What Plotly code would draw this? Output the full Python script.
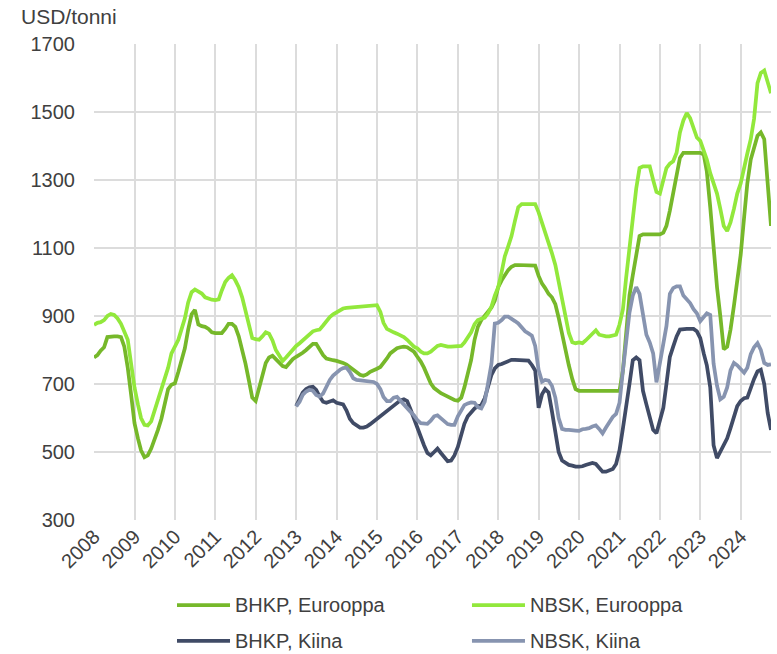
import pandas as pd
import plotly.graph_objects as go


# -----------------------------------
# Monthly pulp prices, USD/tonni
# -----------------------------------
bhkp_eu = [
    778, 785, 798, 808, 838, 840, 840, 840, 838, 810, 748, 670,          # 2008
    585, 540, 505, 485, 490, 510, 535, 565, 598, 640, 685, 698,          # 2009
    702, 735, 770, 805, 860, 905, 918, 875, 870, 868, 862, 852,          # 2010
    850, 849, 850, 862, 877, 877, 868, 840, 800, 760, 710, 660,          # 2011
    650, 690, 730, 762, 778, 783, 773, 763, 753, 750, 762, 773,          # 2012
    780, 785, 792, 800, 810, 818, 818, 800, 785, 775, 771, 770,          # 2013
    768, 766, 762, 757, 750, 742, 733, 727, 724, 728, 736, 742,          # 2014
    745, 750, 760, 775, 790, 798, 805, 808, 810, 808, 800, 795,          # 2015
    780, 766, 748, 725, 702, 688, 680, 673, 668, 663, 658, 653,          # 2016
    651, 660, 690, 730, 770, 830, 868, 888, 900, 910, 925, 945,          # 2017
    985, 1005, 1020, 1035, 1045, 1050, 1050, 1050, 1050, 1050, 1050, 1048,  # 2018
    1018, 995, 982, 965, 955, 935, 895, 845, 800, 755, 715, 685,         # 2019
    680, 680, 680, 680, 680, 680, 680, 680, 680, 680, 680, 680,          # 2020
    680, 740, 860, 960, 1020, 1085, 1135, 1140, 1140, 1140, 1140, 1140,  # 2021
    1140, 1145, 1165, 1210, 1260, 1320, 1365, 1380, 1380, 1380, 1380, 1380,  # 2022
    1380, 1375, 1325, 1220, 1090, 985, 900, 802, 810, 860, 930, 1010,    # 2023
    1080, 1190, 1290, 1360, 1400, 1430, 1440, 1420, 1290, 1165,          # 2024
]

nbsk_eu = [
    874, 880, 882, 888, 900, 906, 903, 893, 877, 852, 830, 760,          # 2008
    690, 640, 600, 580, 578, 590, 620, 650, 685, 710, 748, 790,          # 2009
    810, 830, 860, 893, 940, 970, 978, 972, 966, 955, 950, 948,          # 2010
    947, 949, 975, 1000, 1012, 1020, 1005, 985, 955, 915, 870, 835,      # 2011
    832, 830, 840, 852, 848, 828, 800, 782, 768, 778, 790, 800,          # 2012
    812, 820, 828, 836, 848, 855, 858, 860, 872, 885, 897, 905,          # 2013
    912, 918, 922, 924, 925, 926, 927, 928, 929, 930, 932, 933,          # 2014
    932, 912, 880, 862, 856, 852, 848, 844, 838, 830, 820, 810,          # 2015
    805, 795, 790, 790, 795, 805, 812, 815, 812, 810, 810, 810,          # 2016
    810, 812, 822, 835, 852, 876, 888, 892, 895, 908, 928, 960,          # 2017
    985, 1030, 1075, 1105, 1135, 1180, 1220, 1229, 1229, 1229, 1229, 1229,  # 2018
    1205, 1175, 1140, 1115, 1085, 1050, 1000, 950, 900, 850, 823, 820,   # 2019
    822, 820, 828, 838, 845, 858, 845, 842, 840, 840, 842, 845,          # 2020
    875, 920, 1010, 1100, 1190, 1275, 1335, 1340, 1340, 1340, 1300, 1265,  # 2021
    1260, 1300, 1335, 1348, 1355, 1380, 1440, 1475, 1497, 1482, 1450, 1425,  # 2022
    1415, 1385, 1360, 1320, 1290, 1260, 1215, 1165, 1150, 1175, 1215, 1260,  # 2023
    1290, 1330, 1378, 1420, 1480, 1585, 1615, 1622, 1590, 1555,          # 2024
]

# China series start in January 2013
bhkp_cn = [
    635, 655, 675, 685, 690, 692, 683, 663, 648, 645, 648, 652,          # 2013
    645, 642, 640, 622, 598, 585, 577, 572, 572, 575, 582, 590,          # 2014
    595, 603, 612, 620, 628, 635, 643, 652, 655, 650, 625, 598,          # 2015
    575, 548, 520, 497, 490, 500, 510, 497, 483, 473, 475, 490,          # 2016
    515, 550, 583, 605, 618, 628, 634, 638, 658, 692, 727, 746,          # 2017
    756, 759, 762, 768, 771, 771, 771, 771, 771, 769, 756, 740,          # 2018
    630, 670, 685, 675, 620, 550, 500, 475, 468, 462, 460, 457,          # 2019
    457, 458, 462, 466, 468, 465, 452, 442, 442, 445, 450, 465,          # 2020
    505, 570, 625, 700, 770, 778, 770, 680, 640, 605, 565, 555,          # 2021
    590, 630, 700, 780, 810, 840, 860, 862, 862, 862, 862, 855,          # 2022
    835, 790, 755, 690, 520, 482, 500, 517, 540, 570, 605, 635,          # 2023
    650, 658, 660, 690, 715, 737, 742, 700, 615, 565,                    # 2024
]

nbsk_cn = [
    634, 648, 668, 678, 683, 680, 668, 663, 672, 692, 712, 725,          # 2013
    735, 742, 747, 748, 735, 717, 712, 711, 710, 709, 708, 706,          # 2014
    700, 685, 662, 650, 650, 660, 662, 650, 638, 630, 618, 608,          # 2015
    594, 585, 583, 583, 592, 605, 608, 598, 588, 582, 580, 580,          # 2016
    605, 620, 638, 643, 646, 645, 632, 628, 648, 702, 760, 878,          # 2017
    880, 888, 898, 898, 893, 885, 878, 865, 855, 849, 842, 812,          # 2018
    741, 707, 712, 710, 695, 660, 600, 568, 565, 565, 565, 563,          # 2019
    562, 567, 568, 570, 575, 578, 568, 555, 572, 590, 603, 612,          # 2020
    645, 740, 820, 910, 960, 985, 965, 900, 845, 822, 790, 705,          # 2021
    760, 815, 870, 965, 982, 987, 987, 960, 948, 938, 920, 908,          # 2022
    885, 898, 908, 903, 760, 695, 655, 662, 690, 740, 762, 755,          # 2023
    742, 733, 748, 788, 808, 820, 800, 762, 756, 758,                    # 2024
]

y_ticks = [300, 500, 700, 900, 1100, 1300, 1500, 1700]

dates_eu = pd.date_range("2008-01-01", periods=len(bhkp_eu), freq="MS")
dates_cn = pd.date_range("2013-01-01", periods=len(bhkp_cn), freq="MS")

FONT = "Liberation Sans, Arial, sans-serif"
TEXT = "#404040"
GRID = "#dcdcdc"
LINE_W = 3.75

# (name, x, y, colour, legend column, legend row)
series = [
    ("BHKP, Eurooppa", dates_eu, bhkp_eu, "#76b82a", 0, 0),
    ("NBSK, Eurooppa", dates_eu, nbsk_eu, "#92e83c", 1, 0),
    ("BHKP, Kiina", dates_cn, bhkp_cn, "#404b66", 0, 1),
    ("NBSK, Kiina", dates_cn, nbsk_cn, "#8794b0", 1, 1),
]

fig = go.Figure()
for name, x, y, color, _, _ in series:
    fig.add_trace(go.Scatter(
        x=x, y=y,
        mode="lines",
        name=name,
        line=dict(color=color, width=LINE_W),
    ))

# -----------------------------------
# 2x2 legend below the plot (paper coordinates)
# -----------------------------------
leg_col_x = [0.1226, 0.5583]   # left end of sample line
leg_row_y = [-0.1786, -0.2542]
line_len = 0.0783
text_gap = 0.0045

shapes = []
annotations = [dict(
    text="USD/tonni", xref="paper", yref="paper",
    x=-0.1108, y=1.0588, xanchor="left", yanchor="middle",
    showarrow=False, font=dict(size=21, color=TEXT),
)]
for name, _, _, color, col, row in series:
    x0 = leg_col_x[col]
    y0 = leg_row_y[row]
    shapes.append(dict(
        type="line", xref="paper", yref="paper",
        x0=x0, x1=x0 + line_len, y0=y0, y1=y0,
        line=dict(color=color, width=LINE_W),
    ))
    annotations.append(dict(
        text=name, xref="paper", yref="paper",
        x=x0 + line_len + text_gap, y=y0,
        xanchor="left", yanchor="middle",
        showarrow=False, font=dict(size=20, color=TEXT),
    ))

fig.update_layout(
    width=777, height=654,
    margin=dict(l=94, r=6, t=44, b=134),
    paper_bgcolor="white",
    plot_bgcolor="white",
    font=dict(family=FONT, size=20, color=TEXT),
    showlegend=False,
    shapes=shapes,
    annotations=annotations,
)

fig.update_xaxes(
    type="date",
    range=[dates_eu[0], dates_eu[-1]],
    tick0="2008-01-01", dtick="M12", tickformat="%Y",
    tickangle=-45,
    showgrid=True, gridcolor=GRID, gridwidth=1.6,
    zeroline=False, showline=False,
    ticks="",
)
fig.update_yaxes(
    range=[300, 1700],
    tickvals=y_ticks,
    showgrid=True, gridcolor=GRID, gridwidth=1.6,
    zeroline=False, showline=False,
    ticks="", ticklabelstandoff=18,
)

# drop the default 8px page margin so the figure fills the window exactly
fig.write_html(
    "out.html",
    config={"displayModeBar": False},
    post_script="document.body.style.margin = '0';",
)
